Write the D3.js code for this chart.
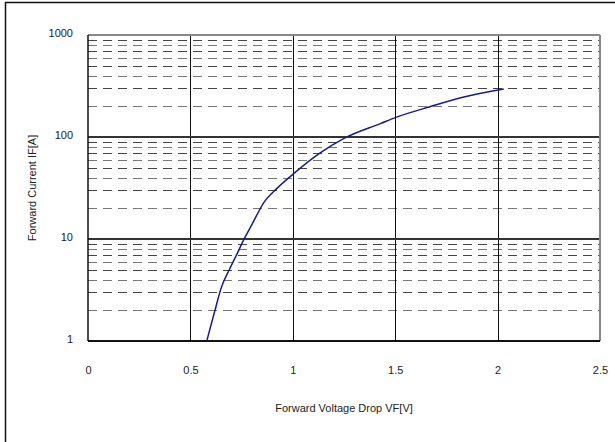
<!DOCTYPE html>
<head>
<meta charset="utf-8">
<title>Forward characteristic</title>
<script src="https://cdn.jsdelivr.net/npm/d3@7"></script>
<style>
body { margin: 0; background: #fff; }
text { font-family: "Liberation Sans Narrow", "Liberation Sans", Arial, sans-serif; font-size: 11px; fill: #222; }
</style>
</head>
<body>
<script>
// curve
var vf = [0.58, 0.62, 0.65, 0.69, 0.73, 0.76, 0.80, 0.86, 0.92, 1.0, 1.13, 1.25, 1.43, 1.5, 1.67, 1.83, 2.03];
var iF = [1, 2, 3.3, 5, 7.3, 9.8, 13.8, 23, 31, 43, 69, 97, 136, 155, 198, 245, 295];
var xTicks = [0, 0.5, 1, 1.5, 2, 2.5];
var yTicks = [1, 10, 100, 1000];

var width = 615, height = 442;
var pl = 88, pr = 600, pt = 35, pb = 341;

var svg = d3.select("body").append("svg")
  .attr("width", width)
  .attr("height", height);

// outer frame
svg.append("rect")
  .attr("x", 5.5).attr("y", 2.5)
  .attr("width", 640).attr("height", 460)
  .attr("fill", "none").attr("stroke", "#111").attr("stroke-width", 1.5);

var x = d3.scaleLinear().domain([0, 2.5]).range([pl, pr]);
var y = d3.scaleLog().domain([1, 1000]).range([pb, pt]);

// minor dashed lines 2..9 per decade
var minor = [];
[1, 10, 100].forEach(function(d) {
  for (var k = 2; k <= 9; k++) minor.push(d * k);
});
svg.selectAll("line.minor")
  .data(minor).enter().append("line")
  .attr("class", "minor")
  .attr("x1", x(0)).attr("x2", x(2.5))
  .attr("y1", function(d) { return Math.round(y(d)) + 0.5; })
  .attr("y2", function(d) { return Math.round(y(d)) + 0.5; })
  .attr("stroke", function(d, i) { return i % 2 ? "#444" : "#777"; })
  .attr("stroke-width", 1.2)
  .attr("stroke-dasharray", "9,6");

// vertical grid
svg.selectAll("line.vg")
  .data([0.5, 1, 1.5, 2]).enter().append("line")
  .attr("class", "vg")
  .attr("x1", function(d) { return Math.round(x(d)) + 0.5; })
  .attr("x2", function(d) { return Math.round(x(d)) + 0.5; })
  .attr("y1", pt).attr("y2", pb)
  .attr("stroke", "#111").attr("stroke-width", 1);

// decade lines
svg.selectAll("line.dec")
  .data([10, 100]).enter().append("line")
  .attr("class", "dec")
  .attr("x1", x(0)).attr("x2", x(2.5))
  .attr("y1", function(d) { return y(d); })
  .attr("y2", function(d) { return y(d); })
  .attr("stroke", "#333").attr("stroke-width", 2);

// plot frame
svg.append("line").attr("x1", x(0)).attr("x2", x(2.5)).attr("y1", y(1000)).attr("y2", y(1000))
  .attr("stroke", "#888").attr("stroke-width", 2);
svg.append("line").attr("x1", x(2.5)).attr("x2", x(2.5)).attr("y1", pt).attr("y2", pb)
  .attr("stroke", "#888").attr("stroke-width", 2);
svg.append("line").attr("x1", x(0)).attr("x2", x(0)).attr("y1", pt).attr("y2", pb)
  .attr("stroke", "#111").attr("stroke-width", 1.5);
svg.append("line").attr("x1", x(0)).attr("x2", x(2.5)).attr("y1", pb).attr("y2", pb)
  .attr("stroke", "#111").attr("stroke-width", 2);

// axes labels via d3 axes, no domain / ticks
var ya = svg.append("g").attr("transform", "translate(" + (pl - 12) + ",0)")
  .call(d3.axisLeft(y).tickValues(yTicks).tickFormat(d3.format("d")).tickSize(0));
ya.select(".domain").remove();
ya.selectAll("text").attr("font-size", 11).attr("fill", "#222").attr("dy", "0.1em");

var xa = svg.append("g").attr("transform", "translate(0," + (pb + 22) + ")")
  .call(d3.axisBottom(x).tickValues(xTicks).tickFormat(d3.format("")).tickSize(0));
xa.select(".domain").remove();
xa.selectAll("text").attr("font-size", 11).attr("fill", "#222");
svg.selectAll("g").attr("font-family", null).attr("font-size", null);

// curve
var pts = vf.map(function(v, i) { return [v, iF[i]]; });
svg.append("path")
  .datum(pts)
  .attr("fill", "none")
  .attr("stroke", "#1a1a8c")
  .attr("stroke-width", 1.5)
  .attr("d", d3.line()
    .x(function(d) { return x(d[0]); })
    .y(function(d) { return y(d[1]); })
    .curve(d3.curveMonotoneX));

// titles
svg.append("text")
  .attr("x", 344).attr("y", 412)
  .attr("text-anchor", "middle")
  .text("Forward Voltage Drop VF[V]");
svg.append("text")
  .attr("transform", "translate(36,188) rotate(-90)")
  .attr("text-anchor", "middle")
  .text("Forward Current IF[A]");
</script>
</body>
